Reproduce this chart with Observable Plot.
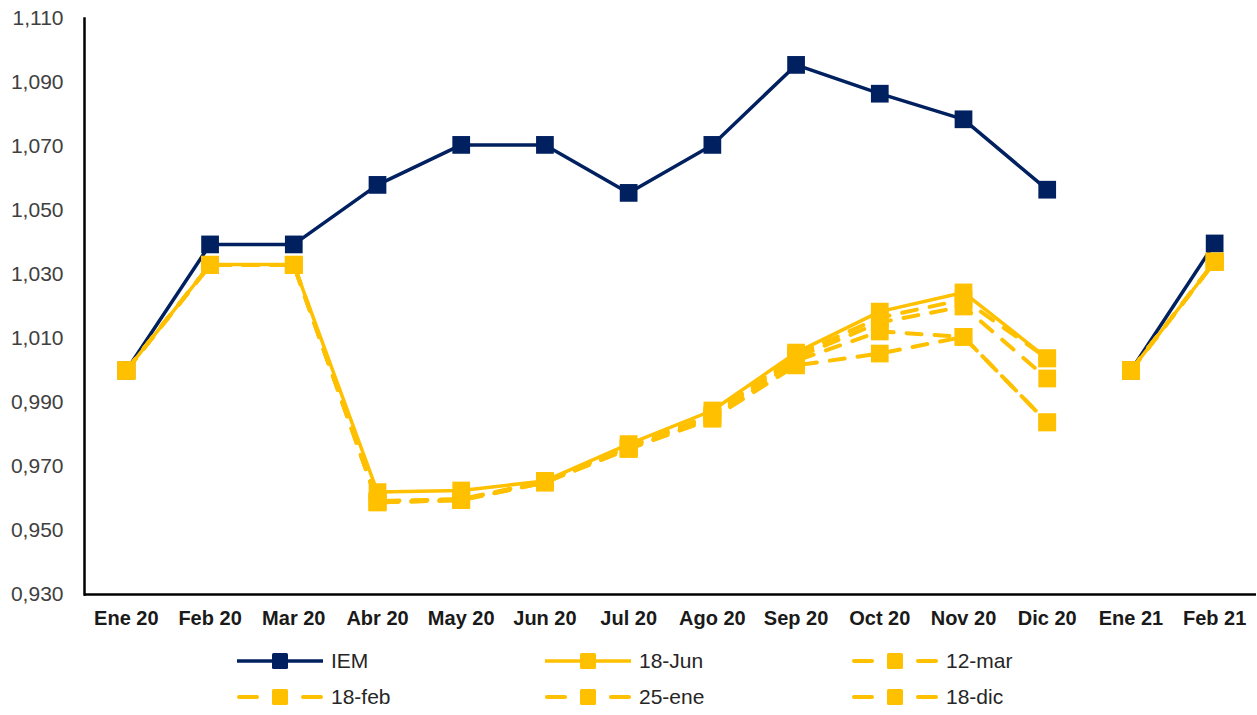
<!DOCTYPE html>
<html>
<head>
<meta charset="utf-8">
<script src="https://cdn.jsdelivr.net/npm/d3@7"></script>
<script src="https://cdn.jsdelivr.net/npm/@observablehq/plot@0.6"></script>
<style>
  html, body { margin: 0; padding: 0; background: #ffffff; }
  body { width: 1257px; height: 715px; overflow: hidden; font-family: "Liberation Sans", Arial, sans-serif; }
  #chart svg { display: block; }
  #legend { position: relative; height: 75px; }
  .item { position: absolute; display: flex; align-items: center; height: 30px; }
  .item span { font-size: 21px; color: #262626; margin-left: 8px; }
</style>
</head>
<body>
<div id="chart"></div>
<div id="legend"></div>
<script>
// ---- data ----
const months = ["Ene 20","Feb 20","Mar 20","Abr 20","May 20","Jun 20","Jul 20","Ago 20","Sep 20","Oct 20","Nov 20","Dic 20","Ene 21","Feb 21"];
const years  = ["2020","2020","2020","2020","2020","2020","2020","2020","2020","2020","2020","2020","2021","2021"];
const iem    = [1.000, 1.0394, 1.0394, 1.058, 1.0705, 1.0705, 1.0555, 1.0705, 1.0955, 1.0865, 1.0785, 1.0565, 1.000, 1.0397];
const jun18  = [1.000, 1.0331, 1.0331, 0.962, 0.9625, 0.9655, 0.9770, 0.9875, 1.0056, 1.0184, 1.0244, 1.0038, 1.000, 1.0340];
const mar12  = [1.000, 1.0330, 1.0330, 0.9592, 0.9598, 0.9653, 0.9762, 0.9862, 1.0048, 1.0165, 1.0222, 1.0038, 1.000, 1.0340];
const feb18  = [1.000, 1.0330, 1.0330, 0.9590, 0.9597, 0.9652, 0.9758, 0.9856, 1.0040, 1.0150, 1.0200, 0.9975, 1.000, 1.0340];
const ene25  = [1.000, 1.0330, 1.0330, 0.9588, 0.9595, 0.9650, 0.9755, 0.9850, 1.0030, 1.0122, 1.0105, 0.9838, 1.000, 1.0340];
const dic18  = [1.000, 1.0330, 1.0330, 0.9588, 0.9595, 0.9650, 0.9755, 0.9850, 1.0016, 1.0053, 1.0105, 0.9838, 1.000, 1.0340];
const yTicks = [0.930, 0.950, 0.970, 0.990, 1.010, 1.030, 1.050, 1.070, 1.090, 1.110];

const NAVY = "#002060", GOLD = "#FFC000";
const series = [
  {name: "IEM",    values: iem,   color: NAVY, dash: null},
  {name: "18-Jun", values: jun18, color: GOLD, dash: null},
  {name: "12-mar", values: mar12, color: GOLD, dash: "15,13"},
  {name: "18-feb", values: feb18, color: GOLD, dash: "15,13"},
  {name: "25-ene", values: ene25, color: GOLD, dash: "15,13"},
  {name: "18-dic", values: dic18, color: GOLD, dash: "15,13"}
];
const rows = s => s.values.map((v, i) => ({m: months[i], yr: years[i], v}));

const fmt = d => d3.format(".3f")(d).replace(".", ",");

const marks = [];
for (const s of series) {
  const data = rows(s);
  marks.push(Plot.line(data, {
    x: "m", y: "v", z: "yr", stroke: s.color,
    strokeWidth: s.dash ? 4 : 3.5,
    strokeDasharray: s.dash || undefined,
    strokeLinecap: s.dash ? "round" : "butt",
    strokeLinejoin: "round"
  }));
  marks.push(Plot.dot(data, {
    x: "m", y: "v", symbol: "square", r: 10, fill: s.color, stroke: "none"
  }));
}

const chart = Plot.plot({
  width: 1257,
  height: 640,
  marginTop: 18,
  marginBottom: 46,
  marginLeft: 84,
  marginRight: 1,
  style: {background: "transparent", fontFamily: "'Liberation Sans', Arial, sans-serif"},
  x: {type: "point", domain: months, padding: 0.5, round: false, label: null},
  y: {domain: [0.93, 1.11], label: null},
  marks: [
    Plot.axisY({ticks: yTicks, tickFormat: fmt, tickSize: 0, tickPadding: 21, fontSize: 21, fill: "#404040", label: null}),
    Plot.axisX({tickSize: 0, tickPadding: 16, fontSize: 20, fontWeight: "bold", fill: "#1a1a1a", label: null}),
    Plot.ruleY([0.93], {stroke: "#000", strokeWidth: 2.5}),
    Plot.frame({anchor: "left", stroke: "#000", strokeWidth: 2.5}),
    ...marks
  ]
});
document.getElementById("chart").appendChild(chart);

// ---- legend ----
const legend = d3.select("#legend");
const cols = [237, 545, 852];
series.forEach((s, i) => {
  const item = legend.append("div").attr("class", "item")
    .style("left", cols[i % 3] + "px")
    .style("top", (i < 3 ? 6 : 42) + "px");
  const sw = item.append("svg").attr("width", 86).attr("height", 24);
  if (s.dash) {
    sw.append("line").attr("x1", 2).attr("x2", 20).attr("y1", 12).attr("y2", 12)
      .attr("stroke", s.color).attr("stroke-width", 4).attr("stroke-linecap", "round");
    sw.append("line").attr("x1", 66).attr("x2", 84).attr("y1", 12).attr("y2", 12)
      .attr("stroke", s.color).attr("stroke-width", 4).attr("stroke-linecap", "round");
  } else {
    sw.append("line").attr("x1", 0).attr("x2", 86).attr("y1", 12).attr("y2", 12)
      .attr("stroke", s.color).attr("stroke-width", 3.5);
  }
  sw.append("rect").attr("x", 35).attr("y", 4).attr("width", 16).attr("height", 16)
    .attr("rx", 1.5).attr("fill", s.color);
  item.append("span").text(s.name);
});
</script>
</body>
</html>
